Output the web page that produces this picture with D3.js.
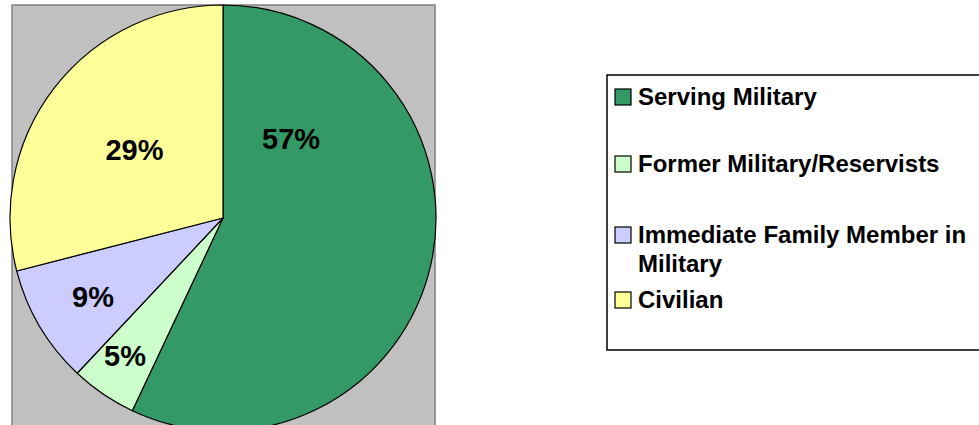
<!DOCTYPE html>
<html>
<head>
<meta charset="utf-8">
<script src="https://cdn.jsdelivr.net/npm/d3@7"></script>
<style>
  html, body { margin: 0; padding: 0; background: #ffffff; }
  svg { display: block; }
  text { font-family: "Liberation Sans", Arial, sans-serif; font-weight: bold; }
</style>
</head>
<body>
<svg id="chart" width="979" height="425"></svg>
<script>
// Respondent groups and their shares (%)
const categories = [
  "Serving Military",
  "Former Military/Reservists",
  "Immediate Family Member in Military",
  "Civilian"
];
const shares = [57, 5, 9, 29];
const sliceColors = ["#339966", "#CCFFCC", "#CCCCFF", "#FFFF99"];

const svg = d3.select("#chart");

// Plot area
const plot = { x: 12, y: 5, w: 423, h: 440 };
svg.append("rect")
  .attr("x", plot.x).attr("y", plot.y)
  .attr("width", plot.w).attr("height", plot.h)
  .attr("fill", "#C0C0C0")
  .attr("stroke", "#808080")
  .attr("stroke-width", 1.5);

// Pie
const cx = 223, cy = 218, R = 213;
const pie = d3.pie().sort(null).startAngle(0).endAngle(2 * Math.PI);
const arcs = pie(shares);
const arc = d3.arc().innerRadius(0).outerRadius(R);

const g = svg.append("g").attr("transform", `translate(${cx},${cy})`);
g.selectAll("path.slice")
  .data(arcs)
  .enter().append("path")
  .attr("class", "slice")
  .attr("d", arc)
  .attr("fill", (d, i) => sliceColors[i])
  .attr("stroke", "#000")
  .attr("stroke-width", 1.2)
  .attr("stroke-linejoin", "round");

// Data labels: where along each slice's sweep, and how far out
const labelSpots = [
  { along: 0.197, radius: 105 },
  { along: 0.57,  radius: 169 },
  { along: 0.48,  radius: 152 },
  { along: 0.5,   radius: 112 }
];
g.selectAll("text.pct")
  .data(arcs)
  .enter().append("text")
  .attr("class", "pct")
  .attr("transform", (d, i) => {
    const s = labelSpots[i];
    const a = d.startAngle + s.along * (d.endAngle - d.startAngle);
    const c = d3.arc().innerRadius(s.radius).outerRadius(s.radius)
      .centroid({ startAngle: a, endAngle: a });
    return `translate(${c[0]},${c[1]})`;
  })
  .attr("text-anchor", "middle")
  .attr("dy", "0.36em")
  .attr("font-size", 29)
  .attr("fill", "#000")
  .text(d => `${d.data}%`);

// Legend
const legend = svg.append("g");
legend.append("rect")
  .attr("x", 607).attr("y", 75)
  .attr("width", 390).attr("height", 275)
  .attr("fill", "#fff")
  .attr("stroke", "#000")
  .attr("stroke-width", 1.5);

const legendRowY = [105, 172, 243, 308];
const lineH = 29;
const textX = 638;
const maxTextW = 336;

categories.forEach((name, i) => {
  const by = legendRowY[i];
  legend.append("rect")
    .attr("x", 615).attr("y", by - 16)
    .attr("width", 16).attr("height", 16)
    .attr("fill", sliceColors[i])
    .attr("stroke", "#000")
    .attr("stroke-width", 1.2);

  const t = legend.append("text")
    .attr("x", textX).attr("y", by)
    .attr("font-size", 24)
    .attr("fill", "#000");

  // simple word wrap within the legend box
  const words = name.split(" ");
  let line = [];
  let tspan = t.append("tspan").attr("x", textX).attr("y", by);
  let lineNo = 0;
  words.forEach(w => {
    line.push(w);
    tspan.text(line.join(" "));
    if (tspan.node().getComputedTextLength() > maxTextW && line.length > 1) {
      line.pop();
      tspan.text(line.join(" "));
      line = [w];
      lineNo++;
      tspan = t.append("tspan").attr("x", textX).attr("y", by + lineNo * lineH).text(w);
    }
  });
});
</script>
</body>
</html>
